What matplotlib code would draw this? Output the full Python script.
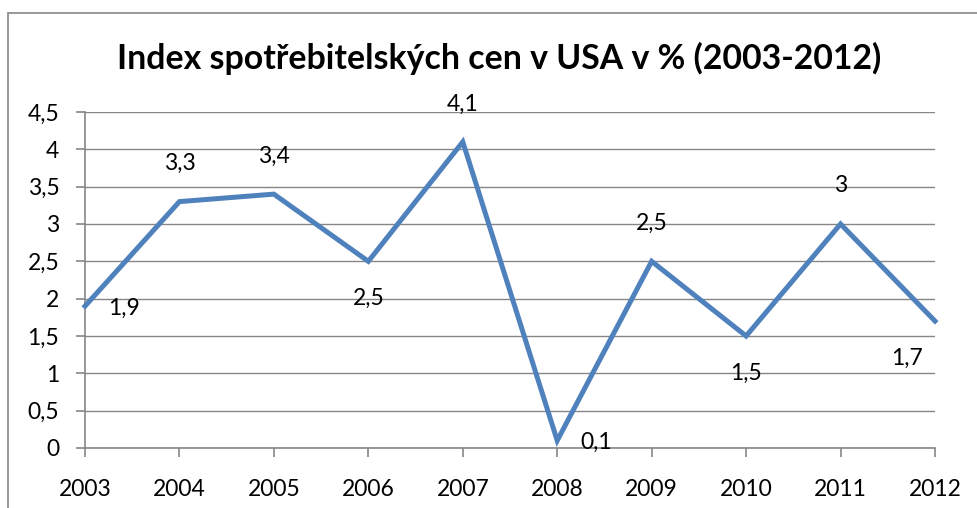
import matplotlib
matplotlib.use("Agg")
import matplotlib.pyplot as plt
from matplotlib.patches import Rectangle

years = ["2003", "2004", "2005", "2006", "2007", "2008", "2009", "2010", "2011", "2012"]
cpi = [1.9, 3.3, 3.4, 2.5, 4.1, 0.1, 2.5, 1.5, 3.0, 1.7]
labels = ["1,9", "3,3", "3,4", "2,5", "4,1", "0,1", "2,5", "1,5", "3", "1,7"]
# where Excel put each data label
label_pos = ["right", "above", "above", "below", "above", "right", "above", "below", "above", "below"]
y_ticks = [0, 0.5, 1, 1.5, 2, 2.5, 3, 3.5, 4, 4.5]
y_tick_labels = ["0", "0,5", "1", "1,5", "2", "2,5", "3", "3,5", "4", "4,5"]

plt.rcParams["font.family"] = ["Lato", "DejaVu Sans"]

fig = plt.figure(figsize=(9.78, 5.08), dpi=100)
ax = fig.add_axes([85 / 978, 60 / 508, 850 / 978, 336 / 508])

x = list(range(len(years)))
ax.plot(x, cpi, color="#4F81BD", linewidth=3.6, solid_joinstyle="miter",
        clip_on=False, zorder=3)

offsets = {"right": (39, -2), "above": (0, 38), "below": (0, -37)}
for i, (v, lab, pos) in enumerate(zip(cpi, labels, label_pos)):
    dx, dy = offsets[pos]
    if i == len(x) - 1:
        dx = -28
    ax.annotate(lab, (i, v), xytext=(dx, dy), textcoords="offset pixels",
                ha="center", va="center", fontsize=16.5, color="black")

ax.set_xlim(0, len(years) - 1)
ax.set_ylim(0, 4.5)
ax.set_xticks(x)
ax.set_xticklabels(years, fontsize=16.5)
ax.set_yticks(y_ticks)
ax.set_yticklabels(y_tick_labels, fontsize=16.5)
ax.yaxis.grid(True, color="#868686", linewidth=1.0)
ax.set_axisbelow(True)
for s in ["top", "right"]:
    ax.spines[s].set_visible(False)
for s in ["left", "bottom"]:
    ax.spines[s].set_color("#868686")
    ax.spines[s].set_linewidth(1.2)
ax.tick_params(axis="both", color="#868686", length=6.5, width=1.2)
ax.tick_params(axis="y", pad=12)
ax.tick_params(axis="x", pad=16)

fig.text(499 / 978, 1 - 58 / 508, "Index spotřebitelských cen v USA v % (2003-2012)",
         ha="center", va="center", fontsize=24.4, fontweight="bold")

fig.patches.append(Rectangle((8 / 978, -0.01), 1.0, 1 - 13 / 508 + 0.01,
                             transform=fig.transFigure, fill=False,
                             edgecolor="#868686", linewidth=1.2))

fig.savefig("out.png", dpi=100)
